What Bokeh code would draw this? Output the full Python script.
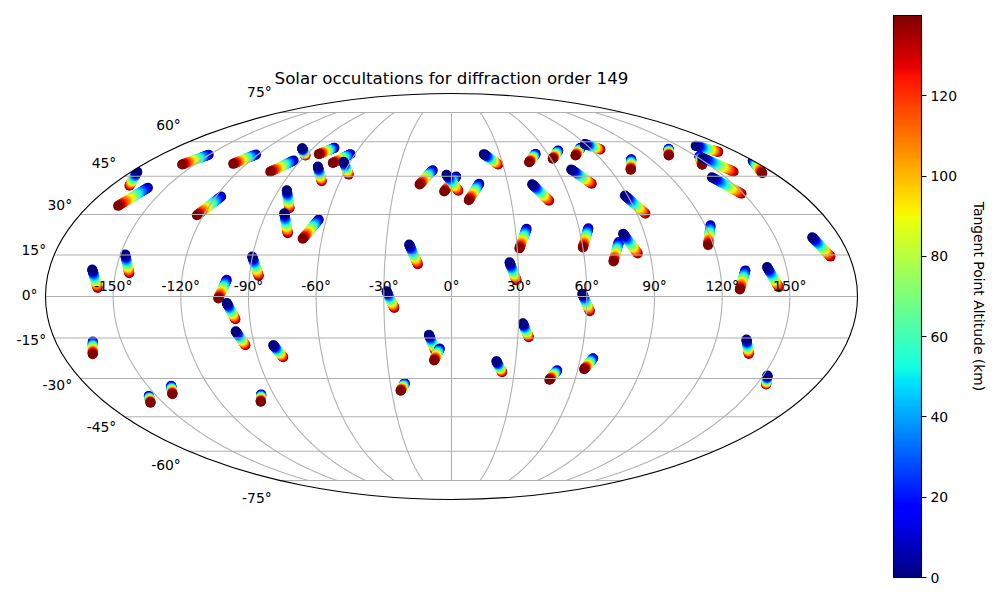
import math
import numpy as np
from bokeh.plotting import figure
from bokeh.embed import file_html
from bokeh.resources import INLINE
from bokeh.core.properties import value
from bokeh.models import (ColumnDataSource, ColorBar, FixedTicker, Label,
                          LinearColorMapper, Range1d)

# Occultation tracks: tangent point at the lowest (start) and highest (end) altitude, degrees
start_lon = [-176.6,-159.4,-150.3,-121.2,-94.2,-96.9,-76.2,-62.8,-64.0,-77.2,-117.3,-85.7,-81.3,-63.6,-147.9,
             -160.7,-90.1,-100.0,-99.7,-97.1,-81.4,-163.1,-153.9,-138.4,-96.3,20.1,52.4,68.1,84.0,89.4,
             108.2,68.0,-10.6,2.6,-2.8,14.8,42.9,88.6,35.3,64.4,77.0,80.0,-19.4,26.1,161.5,
             152.1,152.2,142.6,179.8,140.4,122.6,167.2,131.4,141.4,-28.8,-10.2,-5.4,31.9,21.0,58.0,
             65.9,50.3,-22.9,152.1,133.8]
start_lat = [46.9,40.4,54.1,54.2,51.6,57.0,57.2,54.4,51.1,49.1,36.9,39.4,30.5,28.1,15.2,
             9.7,14.4,6.0,-2.3,-12.5,-17.6,-16.3,-36.7,-32.8,-36.1,54.4,54.5,56.0,57.2,58.9,
             52.2,47.8,47.5,44.9,45.6,42.0,41.8,37.3,24.6,24.8,19.7,22.8,18.8,12.3,58.1,
             53.5,52.8,44.6,51.6,56.8,25.9,21.5,9.4,10.6,1.9,-13.8,-18.8,-9.6,-23.5,1.0,
             -22.4,-26.9,-31.8,-28.9,-15.5]
end_lon = [-170.4,-165.2,-157.2,-127.9,-101.9,-90.0,-82.5,-69.9,-57.0,-69.9,-123.2,-79.8,-76.4,-68.8,-143.8,
           -157.0,-85.9,-103.4,-96.4,-94.1,-78.2,-165.9,-156.6,-141.1,-98.9,27.3,45.9,61.1,76.4,95.8,
           101.7,74.8,-17.0,-3.8,3.6,8.7,49.1,94.2,31.0,60.0,72.9,84.5,-15.1,28.9,168.6,
           146.1,158.6,149.1,173.5,133.9,117.6,171.4,127.9,145.3,-25.4,-7.4,-8.1,35.0,24.2,61.5,
           63.0,47.6,-25.5,154.8,137.4]
end_lat = [41.2,33.3,49.9,50.2,46.9,53.8,54.4,50.6,45.7,43.0,29.7,32.4,23.0,20.9,8.4,
           3.1,7.4,-0.7,-8.2,-17.6,-22.0,-20.9,-39.4,-36.0,-39.0,49.9,50.9,52.4,53.8,56.5,
           47.7,42.0,41.7,38.9,39.2,35.5,35.3,30.3,17.4,17.7,12.6,15.5,11.6,5.8,55.4,
           49.8,46.9,38.0,46.3,53.8,18.6,14.4,2.5,3.3,-4.1,-19.6,-23.2,-14.7,-27.6,-5.3,
           -26.5,-30.5,-34.7,-32.3,-20.8]
# 1 = the track's points are stacked from high altitude down (its low end lies on top)
high_first = [1,0,0,0,0,1,0,0,1,1,0,1,1,0,1,
              1,1,0,1,1,1,0,0,0,0,1,0,0,0,1,
              0,1,0,0,1,0,1,1,0,0,0,1,1,1,1,
              0,1,1,0,0,0,1,0,1,1,1,0,1,1,1,
              0,0,0,1,1]

altitude_levels = list(range(0, 141, 5))
lon_ticks = [-150, -120, -90, -60, -30, 0, 30, 60, 90, 120, 150]
lat_ticks = [-75, -60, -45, -30, -15, 0, 15, 30, 45, 60, 75]
colorbar_ticks = [0, 20, 40, 60, 80, 100, 120]
TITLE = "Solar occultations for diffraction order 149"
CBAR_LABEL = "Tangent Point Altitude (km)"
FONT = "DejaVu Sans"

SQ2 = math.sqrt(2)

def mollweide(lon, lat):
    """Forward Mollweide projection of degrees to the map plane."""
    phi = math.radians(lat)
    if abs(abs(lat) - 90) < 1e-9:
        theta = math.copysign(math.pi / 2, lat)
    else:
        theta = phi
        for _ in range(60):
            d = (2 * theta + math.sin(2 * theta) - math.pi * math.sin(phi)) / (2 + 2 * math.cos(2 * theta))
            theta -= d
            if abs(d) < 1e-10:
                break
    return 2 * SQ2 / math.pi * math.radians(lon) * math.cos(theta), SQ2 * math.sin(theta)

def jet(n=256):
    t = np.linspace(0, 1, n)
    r = np.interp(t, [0, .35, .66, .89, 1], [0, 0, 1, 1, .5])
    g = np.interp(t, [0, .125, .375, .64, .91, 1], [0, 0, 1, 1, 0, 0])
    b = np.interp(t, [0, .11, .34, .65, 1], [.5, 1, 1, 0, 0])
    return ["#%02x%02x%02x" % (int(a * 255 + .5), int(c * 255 + .5), int(d * 255 + .5)) for a, c, d in zip(r, g, b)]

W, H = 992, 592
CX, CY, UNIT = 451, 296, 406 / (2 * SQ2)   # map centre and pixels per map unit
x_lo, x_hi = -CX / UNIT, (W - CX) / UNIT
y_lo, y_hi = -(H - CY) / UNIT, CY / UNIT
p = figure(width=W, height=H, toolbar_location=None, output_backend="svg",
           x_axis_location=None, y_axis_location=None, min_border=0,
           x_range=Range1d(x_lo, x_hi), y_range=Range1d(y_lo, y_hi))
p.grid.visible = False
p.outline_line_color = None

# tracks: a colour stroke between the two read ends of each occultation
mapper = LinearColorMapper(palette=jet(), low=0, high=140)
tx, ty, ta = [], [], []
for lo0, la0, lo1, la1, rev in zip(start_lon, start_lat, end_lon, end_lat, high_first):
    a = mollweide(lo0, la0)
    b = mollweide(lo1, la1)
    for alt in (altitude_levels[::-1] if rev else altitude_levels):
        f = alt / altitude_levels[-1]
        tx.append(a[0] + (b[0] - a[0]) * f)
        ty.append(a[1] + (b[1] - a[1]) * f)
        ta.append(alt)
src = ColumnDataSource(dict(x=tx, y=ty, alt=ta))
p.scatter("x", "y", source=src, size=10, line_color=None,
          fill_color={"field": "alt", "transform": mapper})

# everything outside the map is clipped away: outer box one way round, ellipse the other
angles = np.linspace(2 * np.pi, 0, 361)
p.patch(list(2 * SQ2 * np.cos(angles)) + [x_hi, x_hi, x_lo, x_lo, x_hi, x_hi],
        list(SQ2 * np.sin(angles)) + [0, y_hi, y_hi, y_lo, y_lo, 0],
        fill_color="white", line_color=None)

# graticule lies over the tracks
grid_steps = list(range(-75, 76))
for lon in lon_ticks:
    pts = [mollweide(lon, la) for la in grid_steps]
    p.line([a for a, _ in pts], [b for _, b in pts], line_color="#b0b0b0", line_width=1.1)
for lat in lat_ticks:
    x0, y0 = mollweide(-180, lat)
    x1, _ = mollweide(180, lat)
    p.line([x0, x1], [y0, y0], line_color="#b0b0b0", line_width=1.1)

# map boundary
p.ellipse(x=[0], y=[0], width=[4 * SQ2], height=[2 * SQ2], fill_color=None,
          line_color="black", line_width=1.1)

# tick labels
lon_pos = [mollweide(v, 0) for v in lon_ticks]
p.text([a for a, _ in lon_pos], [b for _, b in lon_pos], text=[f"{v}°" for v in lon_ticks],
       text_font=value(FONT), text_font_size="13.9px", text_color="black",
       text_align="center", text_baseline="middle", y_offset=-11)
lat_pos = [mollweide(-180, v) for v in lat_ticks]
lat_src = ColumnDataSource(dict(
    x=[a for a, _ in lat_pos], y=[b * 1.11 for _, b in lat_pos],
    text=[f"{v}°" for v in lat_ticks],
    dy=[-3 if v < 0 else (-2 if v == 0 else 0) for v in lat_ticks]))
p.text("x", "y", text="text", source=lat_src, text_font=value(FONT), text_font_size="13.9px",
       text_color="black", text_align="right", text_baseline="middle", x_offset=-8, y_offset="dy")

# title
p.add_layout(Label(x=CX, y=H - 78, x_units="screen", y_units="screen", text=TITLE,
                   text_font=FONT, text_font_size="16.67px", text_color="black",
                   text_align="center", text_baseline="middle"))

# colour bar and its label
cb = ColorBar(color_mapper=mapper, ticker=FixedTicker(ticks=colorbar_ticks),
              location=(893, H - 577), width=28, height=562, padding=0, margin=0,
              background_fill_color=None, border_line_color=None,
              bar_line_color="black", bar_line_width=1.1,
              major_tick_in=0, major_tick_out=5, major_tick_line_color="black",
              major_tick_line_width=1.1, minor_tick_line_color=None,
              label_standoff=4, major_label_text_font=FONT,
              major_label_text_font_size="13.9px", major_label_text_color="black")
p.add_layout(cb, "center")
p.add_layout(Label(x=978, y=H - 296, x_units="screen", y_units="screen", text=CBAR_LABEL,
                   text_font=FONT, text_font_size="13.9px", text_color="black",
                   angle=-90, angle_units="deg", text_align="center", text_baseline="middle"))

open("out.html", "w").write(file_html(p, INLINE))
